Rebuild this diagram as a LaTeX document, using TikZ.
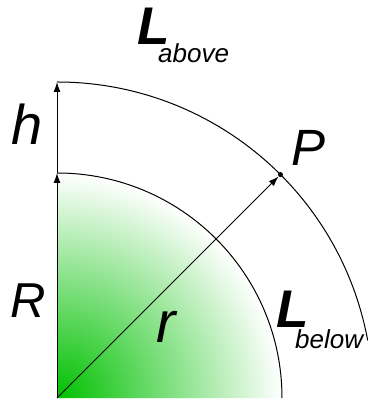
\documentclass[tikz,border=0pt]{standalone}
\usepackage{fontspec}
\setmainfont{Liberation Sans}
\usepackage{tikz}
\usetikzlibrary{arrows.meta,calc}
\definecolor{ground-green}{HTML}{00C000}
\pgfdeclareradialshading{groundfade}{\pgfpoint{0bp}{0bp}}{color(0bp)=(ground-green); color(25bp)=(white); color(50bp)=(white)}
\tikzset{
  sym/.style={anchor=base west,inner sep=0pt,font=\itshape},
  bigL/.style={anchor=base west,inner sep=0pt,font=\bfseries\itshape\fontsize{53}{53}\selectfont},
  subtext/.style={anchor=base west,inner sep=0pt,font=\itshape\fontsize{26}{26}\selectfont},
  radius line/.style={line width=1pt,-{Latex[length=10pt,width=7pt]}}
}

\begin{document}
\begin{tikzpicture}[x=1pt,y=1pt]
  \useasboundingbox (-57,-5) rectangle (310,398);
  % ground
  \coordinate (O) at (0,0);
  \coordinate (surf) at (90:225);
  \coordinate (sky) at (90:316);
  \begin{scope}
    \clip (O) -- (surf) arc[start angle=90,end angle=0,radius=225] -- cycle;
    \shade[shading=groundfade] (O) circle (225);
  \end{scope}
  \draw[line width=1pt] (surf) arc[start angle=90,end angle=0,radius=225];
  \draw[line width=1pt] (sky) arc[start angle=90,end angle=10.5,radius=316];
  % radii
  \node[circle,fill=black,inner sep=0pt,minimum size=5pt] (Pdot) at (45:316) {};
  \draw[radius line] (O) -- (surf);
  \draw[radius line] (surf) -- (sky);
  \draw[radius line] (O) -- (Pdot);
  % labels
  \node[bigL] (Labove) at (80,353) {L};
  \node[subtext] (above) at (101,335) {above};
  \node[bigL] (Lbelow) at (219,70) {L};
  \node[subtext] (below) at (238,49) {below};
  \node[sym,font=\itshape\fontsize{56}{56}\selectfont] (h) at (-46,253) {h};
  \node[sym,font=\itshape\fontsize{49}{49}\selectfont] (R) at (-47,80) {R};
  \node[sym,font=\itshape\fontsize{58}{58}\selectfont] (r) at (99,55) {r};
  \node[sym,font=\itshape\fontsize{51}{51}\selectfont] (P) at (234,232) {P};
\end{tikzpicture}
\end{document}
